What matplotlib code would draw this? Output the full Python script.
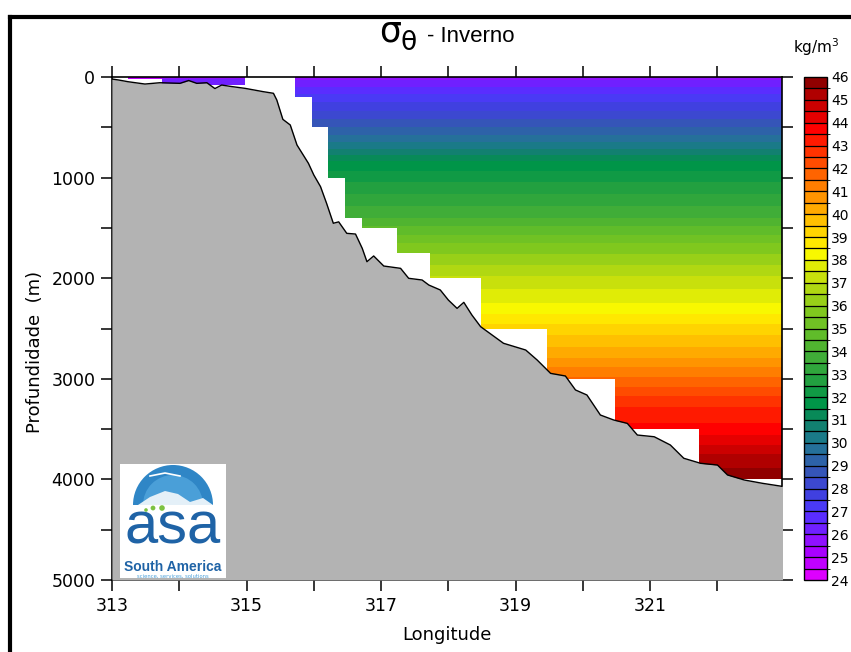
import numpy as np
import matplotlib
matplotlib.use('Agg')
import matplotlib.pyplot as plt
from matplotlib.colors import ListedColormap, BoundaryNorm
from matplotlib.patches import Polygon, Wedge, Circle, Rectangle
from matplotlib.lines import Line2D
from matplotlib.cm import ScalarMappable
from matplotlib import font_manager

# ---------------- data ----------------
# discrete colour levels of the sigma-theta colour bar (24 .. 46, step 0.5)
level_min, level_max, level_step = 24.0, 46.0, 0.5
level_colors = [
    '#dd00ff', '#c000ff', '#a800ff', '#9010ff', '#7020ff', '#5a2dff', '#4a3af5', '#4040e0',
    '#3c48d0', '#3555b8', '#2d62a8', '#25709a', '#1a7a88', '#128070', '#088a58', '#009548',
    '#109a45', '#22a040', '#30a63c', '#40ad38', '#50b430', '#60bc2a', '#70c224', '#80c81e',
    '#98d018', '#b0d812', '#c8e00c', '#e0ec06', '#f8f800', '#ffe800', '#ffd400', '#ffc000',
    '#ffaa00', '#ff9400', '#ff7e00', '#ff6400', '#ff4c00', '#ff3300', '#ff1a00', '#ff0000',
    '#e60000', '#cc0000', '#b00000', '#900000']
cbar_ticks = list(range(24, 47))

# offshore sigma-theta profile (horizontally uniform)
prof_depth = [0, 200, 500, 650, 850, 1000, 1400, 1650, 2000, 2300, 2500, 2750, 3000,
              3250, 3500, 3750, 4000, 4100]
prof_sigma = [25.8, 27.2, 29.0, 30.0, 31.6, 32.3, 34.0, 35.5, 37.1, 38.2, 39.2, 40.3, 41.6,
              42.9, 43.7, 45.0, 45.9, 45.95]

# offshore data columns: longitude edges and deepest level with data
col_edges = [315.72, 315.98, 316.21, 316.47, 316.72, 317.24, 317.73, 318.48, 319.47,
             320.47, 321.73, 322.97]
col_maxdepth = [200, 500, 1000, 1400, 1500, 1750, 2000, 2500, 3000, 3500, 4000]

# near-shore shelf cells
shelf_edges = [313.24, 313.74, 314.98]
shelf_depth_edges = [0, 20, 75]
shelf_sigma = [[24.6, 25.7],
               [np.nan, 26.4]]

# bathymetry (longitude, depth m)
bathy_lon = [313.00, 313.10, 313.24, 313.49, 313.71, 314.01, 314.14, 314.26, 314.41, 314.53,
             314.63, 314.78, 314.98, 315.25, 315.40, 315.45, 315.54, 315.65, 315.75, 315.92,
             316.00, 316.10, 316.19, 316.29, 316.37, 316.49, 316.62, 316.72, 316.79, 316.89,
             317.04, 317.29, 317.41, 317.61, 317.71, 317.88, 318.00, 318.13, 318.23, 318.35,
             318.48, 318.82, 319.15, 319.32, 319.52, 319.74, 319.89, 320.06, 320.26, 320.46,
             320.66, 320.81, 321.06, 321.30, 321.50, 321.75, 322.00, 322.15, 322.40, 322.67,
             322.99]
bathy_dep = [20, 30, 47, 70, 57, 63, 35, 63, 57, 115,
             80, 95, 113, 146, 162, 229, 421, 477, 676, 858,
             974, 1090, 1256, 1454, 1440, 1554, 1561, 1703, 1836, 1779,
             1879, 1902, 2001, 2018, 2068, 2117, 2217, 2300, 2240, 2366,
             2482, 2647, 2714, 2813, 2946, 2972, 3111, 3161, 3360, 3410,
             3443, 3559, 3576, 3658, 3790, 3840, 3857, 3956, 4006, 4039,
             4072]

x_major = [313, 315, 317, 319, 321]
x_minor = [314, 316, 318, 320, 322]
y_major = [0, 1000, 2000, 3000, 4000, 5000]
y_minor = [500, 1500, 2500, 3500, 4500]

# ---------------- figure ----------------
names = {f.name for f in font_manager.fontManager.ttflist}
narrow = 'Liberation Sans Narrow' if 'Liberation Sans Narrow' in names else 'Liberation Sans'

W, H = 851, 652
fig = plt.figure(figsize=(W / 100, H / 100), dpi=100)


def fx(px):
    return px / W


def fy(py):
    return 1 - py / H


ax = fig.add_axes([fx(112), fy(580), fx(782) - fx(112), fy(77) - fy(580)])

levels = np.arange(level_min, level_max + level_step / 2, level_step)
cmap = ListedColormap(level_colors)
norm = BoundaryNorm(levels, cmap.N)

# offshore field, clipped to data coverage
grid_lon = [313.0, 323.0]
Z = np.tile(np.array(prof_sigma)[:, None], (1, len(grid_lon)))
cs = ax.contourf(grid_lon, prof_depth, Z, levels=levels, cmap=cmap, norm=norm, zorder=1)
verts = [(col_edges[0], 0)]
for i, d in enumerate(col_maxdepth):
    verts.append((col_edges[i], d))
    verts.append((col_edges[i + 1], d))
verts.append((col_edges[-1], 0))
clip = Polygon(verts, closed=True, transform=ax.transData, facecolor='none', edgecolor='none')
cs.set_clip_path(clip)

# shelf cells
ax.pcolormesh(shelf_edges, shelf_depth_edges, np.ma.masked_invalid(np.array(shelf_sigma)),
              cmap=cmap, norm=norm, zorder=1, shading='flat')

# bathymetry
ax.fill_between(bathy_lon, bathy_dep, 5000, color='#b3b3b3', lw=0, zorder=3)
ax.plot(bathy_lon, bathy_dep, color='black', lw=1.0, zorder=4)

ax.set_xlim(313, 322.96)
ax.set_ylim(5000, 0)
ax.set_xticks(x_major)
ax.set_xticks(x_minor, minor=True)
ax.set_yticks(y_major)
ax.set_yticks(y_minor, minor=True)
ax.tick_params(which='both', direction='out', length=8, width=1.1, top=True, right=True,
               labeltop=False, labelright=False, labelsize=12.5, pad=4)
for s in ax.spines.values():
    s.set_linewidth(1.2)
ax.set_xlabel('Longitude', fontsize=13, labelpad=8)
ax.set_facecolor('white')
fig.text(fx(35), fy(352), 'Profundidade  (m)', rotation=90, fontsize=13,
         ha='center', va='center')

# title: sigma with theta subscript, then season
fig.text(fx(379), fy(42), '\u03c3', fontsize=25, ha='left', va='baseline')
fig.text(fx(401), fy(50), '\u03b8', fontsize=19, ha='left', va='baseline')
fig.text(fx(427), fy(42), '- Inverno', fontsize=16, family=narrow, ha='left', va='baseline')

# colour bar
cax = fig.add_axes([fx(804), fy(580), fx(827) - fx(804), fy(77) - fy(580)])
cb = fig.colorbar(ScalarMappable(norm=norm, cmap=cmap), cax=cax, drawedges=True,
                  ticks=cbar_ticks)
cb.outline.set_linewidth(1.0)
cb.dividers.set_color('black')
cb.dividers.set_linewidth(0.9)
cax.tick_params(length=0, labelsize=10, pad=3)
fig.text(fx(816), fy(47), r'kg/m$^3$', fontsize=11, ha='center', va='center')

# logo
lax = fig.add_axes([fx(120), fy(578), fx(226) - fx(120), fy(464) - fy(578)])
lax.set_zorder(6)
lax.set_xlim(0, 106)
lax.set_ylim(114, 0)
lax.axis('off')
lax.add_patch(Rectangle((0, 0), 106, 114, facecolor='white', edgecolor='none'))
lax.add_patch(Wedge((53, 41), 40, 180, 360, facecolor='#2f86c6', edgecolor='none'))
lax.add_patch(Wedge((53, 41), 30, 180, 360, facecolor='#4a9fd8', edgecolor='none'))
wave_x = np.array([18, 30, 45, 58, 70, 83, 93])
wave_y = np.array([41, 33, 27, 30, 38, 34, 41])
lax.fill(np.r_[wave_x, 93, 18], np.r_[wave_y, 41, 41], color='#e4f0f8', lw=0)
lax.plot([30, 45, 60], [12, 9, 12], color='white', lw=1.2)
for cx_, cy_, r_ in [(26, 46, 1.8), (33, 44, 2.4), (42, 44, 2.8)]:
    lax.add_patch(Circle((cx_, cy_), r_, facecolor='#7cc242', edgecolor='none', zorder=5))
lax.text(53, 80, 'asa', fontsize=43, family='Liberation Sans', color='#1f63a6',
         ha='center', va='baseline')
lax.text(53, 107, 'South America', fontsize=10, family=narrow, weight='bold',
         color='#1f63a6', ha='center', va='baseline')
lax.text(53, 113.5, 'science, services, solutions', fontsize=3.8, color='#4a9fd8',
         ha='center', va='baseline')

# outer frame
fig.add_artist(Line2D([fx(10), fx(10)], [fy(17), 0], color='black', lw=3))
fig.add_artist(Line2D([fx(10), 1], [fy(17), fy(17)], color='black', lw=3))

fig.savefig('out.png', dpi=100)
